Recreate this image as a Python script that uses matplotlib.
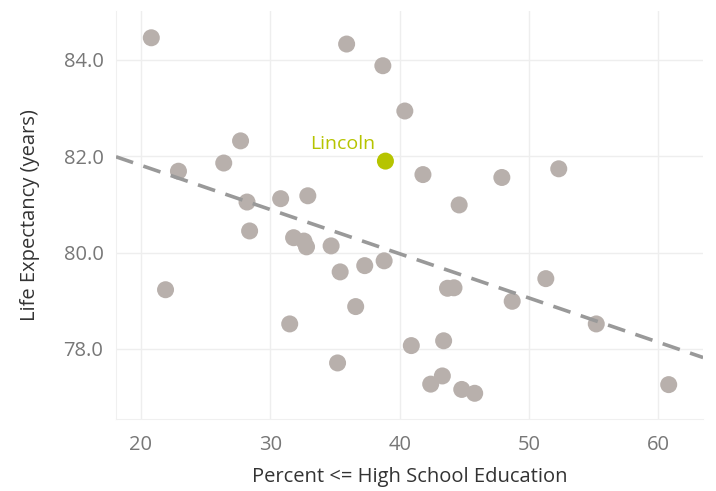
import numpy as np
import matplotlib
matplotlib.use("Agg")
import matplotlib.pyplot as plt
from matplotlib.ticker import FormatStrFormatter

# percent with <= high school education, life expectancy (years)
pct_hs = [20.8, 35.9, 38.7, 40.4, 27.7, 26.4, 22.9, 41.8, 47.9, 52.3,
          44.6, 28.2, 30.8, 32.9, 28.4, 31.8, 32.6, 32.8, 34.7, 35.4,
          37.3, 38.8, 21.9, 31.5, 35.2, 36.6, 40.9, 43.4, 43.7, 44.2,
          48.7, 51.3, 55.2, 42.4, 43.3, 44.8, 45.8, 60.8]
life_exp = [84.46, 84.33, 83.88, 82.94, 82.32, 81.86, 81.69, 81.62, 81.56, 81.74,
            80.99, 81.05, 81.12, 81.18, 80.45, 80.31, 80.24, 80.12, 80.14, 79.60,
            79.73, 79.83, 79.23, 78.52, 77.71, 78.88, 78.07, 78.17, 79.26, 79.27,
            78.99, 79.46, 78.52, 77.27, 77.44, 77.16, 77.08, 77.26]

hl_name = "Lincoln"
hl_pct = 38.9
hl_life = 81.90

x_ticks = [20, 30, 40, 50, 60]
y_ticks = [78, 80, 82, 84]

plt.rcParams['font.family'] = ['Open Sans', 'DejaVu Sans']

fig, ax = plt.subplots(figsize=(7.16, 4.91), dpi=100)
fig.subplots_adjust(left=0.162, right=0.982, top=0.978, bottom=0.147)

ax.set_xlim(18.07, 63.46)
ax.set_ylim(76.55, 85.02)

# trend line (least squares over all counties)
all_x = np.array(pct_hs + [hl_pct])
all_y = np.array(life_exp + [hl_life])
slope, intercept = np.polyfit(all_x, all_y, 1)
xs = np.array(ax.get_xlim())
ax.plot(xs, slope * xs + intercept, color='#999999', lw=2.6,
        dashes=(5, 3), zorder=3)

ax.scatter(pct_hs, life_exp, s=150, color='#b8b0ac', edgecolor='none', zorder=2)
ax.scatter([hl_pct], [hl_life], s=150, color='#b6c400', edgecolor='none', zorder=4)
ax.annotate(hl_name, (hl_pct, hl_life), xytext=(-7, 9), textcoords='offset points',
            ha='right', va='baseline', color='#b6c400', fontsize=14)

ax.set_xticks(x_ticks)
ax.set_yticks(y_ticks)
ax.yaxis.set_major_formatter(FormatStrFormatter('%.1f'))
ax.grid(True, color='#eeeeee', lw=1)
ax.set_axisbelow(True)
ax.tick_params(length=0, labelsize=14.5, labelcolor='#777777')
ax.tick_params(axis='x', pad=12)
ax.tick_params(axis='y', pad=9)
for side in ['top', 'right']:
    ax.spines[side].set_visible(False)
for side in ['left', 'bottom']:
    ax.spines[side].set_color('#f0f0f0')

ax.set_xlabel('Percent <= High School Education', fontsize=14.5, color='#333333', labelpad=8)
ax.set_ylabel('Life Expectancy (years)', fontsize=14.5, color='#333333', labelpad=17)

fig.savefig('out.png', dpi=100)
